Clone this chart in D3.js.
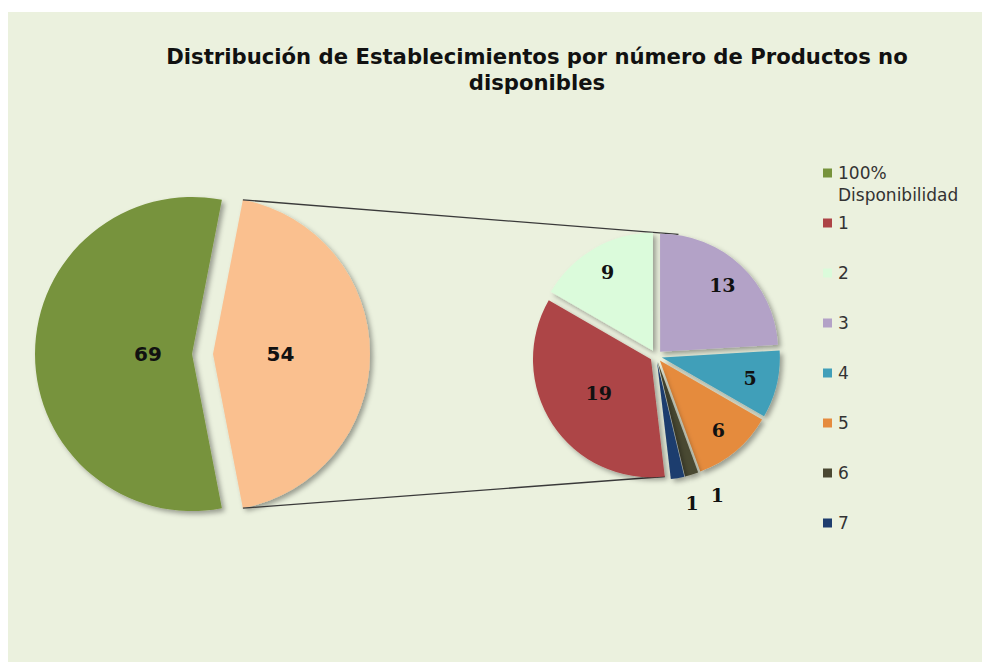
<!DOCTYPE html>
<html>
<head>
<meta charset="utf-8">
<script src="https://cdn.jsdelivr.net/npm/d3@7"></script>
<style>
  body { margin: 0; background: #fff; }
  svg { display: block; }
</style>
</head>
<body>
<div class="container"></div>
<script>
// Data
const mainLabels = ["Otros", "100% Disponibilidad"];
const mainValues = [54, 69];
const mainColors = ["#FAC08F", "#77933C"];

const subLabels = ["1", "2", "3", "4", "5", "6", "7"];
const subValues = [19, 9, 13, 5, 6, 1, 1];
const subColors = ["#AD4446", "#DBFBDB", "#B3A2C7", "#419FB9", "#E58B3E", "#4A4832", "#1E3D6E"];

const legendLabels = [["100%", "Disponibilidad"], ["1"], ["2"], ["3"], ["4"], ["5"], ["6"], ["7"]];
const legendColors = ["#77933C"].concat(subColors);

const titleLines = ["Distribución de Establecimientos por número de Productos no", "disponibles"];

const width = 982;
const height = 662;
const deg = Math.PI / 180;

const svg = d3.select(".container").append("svg")
    .attr("width", width)
    .attr("height", height);

// drop shadow like the original
const defs = svg.append("defs");
const f = defs.append("filter").attr("id", "shadow")
    .attr("x", "-20%").attr("y", "-20%").attr("width", "140%").attr("height", "140%");
f.append("feDropShadow")
    .attr("dx", 3).attr("dy", 3).attr("stdDeviation", 2.5)
    .attr("flood-color", "#000").attr("flood-opacity", 0.35);

// chart background
svg.append("rect")
    .attr("x", 8).attr("y", 12)
    .attr("width", width - 8).attr("height", height - 12)
    .attr("fill", "#EBF1DE");

// title
const title = svg.append("text")
    .attr("text-anchor", "middle")
    .attr("font-family", "'DejaVu Sans', Verdana, sans-serif")
    .attr("font-weight", "bold")
    .attr("font-size", 17)
    .attr("fill", "#111");
title.selectAll("tspan")
    .data(titleLines)
  .enter().append("tspan")
    .attr("x", 537)
    .attr("y", (d, i) => 64 + i * 26)
    .text(d => d);
// fit the first line to the original width
const w0 = title.select("tspan").node().getComputedTextLength();
title.attr("font-size", 17 * 742 / w0);

// ---- main pie ----
const mainR = 157;
const mainC = [202.5, 354];
const mainExplode = 10.5;
const mainSpan = mainValues[0] / d3.sum(mainValues) * 360;
const mainStart = (90 - mainSpan / 2) * deg;

const mainPie = d3.pie().sort(null)
    .startAngle(mainStart)
    .endAngle(mainStart + 2 * Math.PI);
const mainArcs = mainPie(mainValues);
const mainArc = d3.arc().innerRadius(0).outerRadius(mainR);

function shift(d, e) {
  const a = (d.startAngle + d.endAngle) / 2;
  return [Math.sin(a) * e, -Math.cos(a) * e];
}

const gMain = svg.append("g")
    .attr("transform", `translate(${mainC[0]},${mainC[1]})`);

gMain.selectAll("path")
    .data(mainArcs)
  .enter().append("path")
    .attr("d", mainArc)
    .attr("fill", (d, i) => mainColors[i])
    .attr("filter", "url(#shadow)")
    .attr("transform", d => `translate(${shift(d, mainExplode)})`);

gMain.selectAll("text")
    .data(mainArcs)
  .enter().append("text")
    .attr("transform", d => {
      const big = d.endAngle - d.startAngle > Math.PI;
      const s = shift(d, mainExplode + mainR * (big ? 0.28 : 0.43));
      return `translate(${s[0]},${s[1]})`;
    })
    .attr("text-anchor", "middle")
    .attr("dy", "0.36em")
    .attr("font-family", "'DejaVu Sans', Verdana, sans-serif")
    .attr("font-weight", "bold")
    .attr("font-size", 20)
    .attr("fill", "#111")
    .text(d => d.value);

// ---- secondary pie ----
const subR = 118;
const subC = [656, 356];
const subExplode = 6;
const subStart = 173.3 * deg;

const subPie = d3.pie().sort(null)
    .startAngle(subStart)
    .endAngle(subStart + 2 * Math.PI);
const subArcs = subPie(subValues);
const subArc = d3.arc().innerRadius(0).outerRadius(subR);

// connector lines from the "other" slice to the secondary pie
const other = mainArcs[0];
const os = shift(other, mainExplode);
const p1 = [mainC[0] + os[0] + Math.sin(other.startAngle) * mainR, mainC[1] + os[1] - Math.cos(other.startAngle) * mainR];
const p2 = [mainC[0] + os[0] + Math.sin(other.endAngle) * mainR, mainC[1] + os[1] - Math.cos(other.endAngle) * mainR];
const q1 = [subC[0] + Math.sin(9 * deg) * subR + 4, subC[1] - Math.cos(9 * deg) * subR - 5];
const rs = shift(subArcs[0], subExplode);
const q2 = [subC[0] + Math.sin(subArcs[0].startAngle) * subR + rs[0], subC[1] - Math.cos(subArcs[0].startAngle) * subR + rs[1]];

svg.append("g").selectAll("line")
    .data([[p1, q1], [p2, q2]])
  .enter().append("line")
    .attr("x1", d => d[0][0]).attr("y1", d => d[0][1])
    .attr("x2", d => d[1][0]).attr("y2", d => d[1][1])
    .attr("stroke", "#3a3a3a")
    .attr("stroke-width", 1.3);

const gSub = svg.append("g")
    .attr("transform", `translate(${subC[0]},${subC[1]})`);

gSub.selectAll("path")
    .data(subArcs)
  .enter().append("path")
    .attr("d", subArc)
    .attr("fill", (d, i) => subColors[i])
    .attr("filter", "url(#shadow)")
    .attr("transform", d => `translate(${shift(d, subExplode)})`);

// tiny slices get their labels outside, spread apart a bit
const mid = d => (d.startAngle + d.endAngle) / 2;
const tiny = subArcs.filter(d => d.endAngle - d.startAngle < 0.2);
const tinyMid = d3.mean(tiny, mid);

gSub.selectAll("text")
    .data(subArcs)
  .enter().append("text")
    .attr("transform", d => {
      const span = d.endAngle - d.startAngle;
      let a = mid(d);
      let rr;
      if (span < 0.2) { rr = subR + 34; a = tinyMid - 5.4 * deg + (a - tinyMid) * 1.5; }
      else if (span > 2) rr = subR * 0.58;
      else rr = subR * 0.82;
      return `translate(${Math.sin(a) * rr},${-Math.cos(a) * rr})`;
    })
    .attr("text-anchor", "middle")
    .attr("dy", "0.36em")
    .attr("font-family", "'DejaVu Serif', Georgia, serif")
    .attr("font-weight", "bold")
    .attr("font-size", 19)
    .attr("fill", "#111")
    .text(d => d.value);

// ---- legend ----
const legend = svg.append("g")
    .attr("transform", "translate(823,173)");

const item = legend.selectAll("g")
    .data(legendLabels)
  .enter().append("g")
    .attr("transform", (d, i) => `translate(0,${i * 50})`);

item.append("rect")
    .attr("x", 0).attr("y", -4.5)
    .attr("width", 9).attr("height", 9)
    .attr("fill", (d, i) => legendColors[i]);

item.append("text")
    .attr("font-family", "'DejaVu Sans', Verdana, sans-serif")
    .attr("font-size", 17)
    .attr("fill", "#333")
    .selectAll("tspan")
    .data(d => d)
  .enter().append("tspan")
    .attr("x", 15)
    .attr("y", (d, i) => i * 22)
    .attr("dy", "0.36em")
    .text(d => d);
</script>
</body>
</html>
